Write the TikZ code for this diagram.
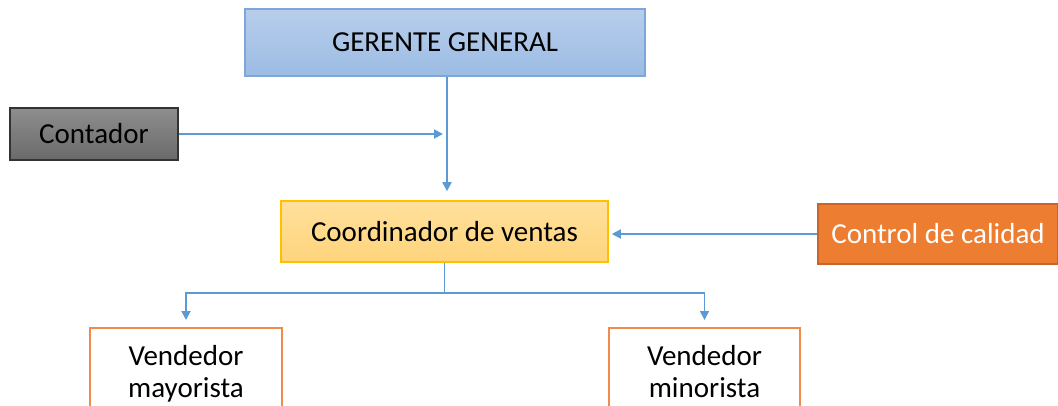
\documentclass[tikz,border=0pt]{standalone}
\usepackage{fontspec}
\setmainfont{Carlito}
\usetikzlibrary{arrows.meta}
\usepackage{xcolor}
\definecolor{linkblue}{HTML}{5B9BD5}
\definecolor{bluetop}{HTML}{B8CEEB}
\definecolor{bluebot}{HTML}{9CBCE4}
\definecolor{blueedge}{HTML}{7DA7D9}
\definecolor{graytop}{HTML}{8E8E8E}
\definecolor{graybot}{HTML}{6A6A6A}
\definecolor{goldtop}{HTML}{FFE09C}
\definecolor{goldbot}{HTML}{FFD47C}
\definecolor{goldedge}{HTML}{FFC000}
\definecolor{orangefill}{HTML}{ED7D31}
\definecolor{orangeedge}{HTML}{C8652A}
\definecolor{salesedge}{HTML}{F08C4A}

\begin{document}
\begin{tikzpicture}[x=1pt,y=-1pt]
    \tikzset{
        box/.style={rectangle,draw,line width=1.6pt,inner sep=0pt,
            font=\fontsize{29}{32}\selectfont},
        link/.style={draw=linkblue,line width=1.8pt,
            -{Triangle[length=9pt,width=9pt]}},
    }
    \useasboundingbox (0,0) rectangle (1058,405);
    \clip (0,0) rectangle (1058,405);
    % boxes
    \node[box,draw=blueedge,top color=bluetop,bottom color=bluebot,
        minimum width=400pt,minimum height=67pt] (gerente) at (445,42.5) {GERENTE GENERAL};
    \node[box,draw=black!80,top color=graytop,bottom color=graybot,
        minimum width=168pt,minimum height=52pt] (contador) at (94,134) {Contador};
    \node[box,draw=goldedge,top color=goldtop,bottom color=goldbot,
        minimum width=327pt,minimum height=61pt] (coordinador) at (444.5,231.5) {Coordinador de ventas};
    \node[box,draw=orangeedge,fill=orangefill,text=white,
        minimum width=240pt,minimum height=60pt] (calidad) at (938,234) {Control de calidad};
    \node[box,draw=salesedge,fill=white,align=center,
        minimum width=192pt,minimum height=96pt,anchor=north] (mayorista) at (186,327) {Vendedor\\mayorista\strut};
    \node[box,draw=salesedge,fill=white,align=center,
        minimum width=191pt,minimum height=96pt,anchor=north] (minorista) at (704.5,327) {Vendedor\\minorista\strut};
    % connectors
    \draw[link,shorten >=9pt] (gerente.south) ++(2,0) coordinate (stem) -- (stem |- coordinador.north);
    \draw[link,shorten >=4pt] (contador.east) -- (contador.east -| stem);
    \draw[link,shorten >=3pt] (calidad.west) -- (calidad.west -| coordinador.east);
    \draw[link,shorten >=7pt] (coordinador.south) -- ++(0,30) -| (mayorista.north);
    \draw[link,shorten >=7pt] (coordinador.south) -- ++(0,30) -| (minorista.north);
\end{tikzpicture}
\end{document}
